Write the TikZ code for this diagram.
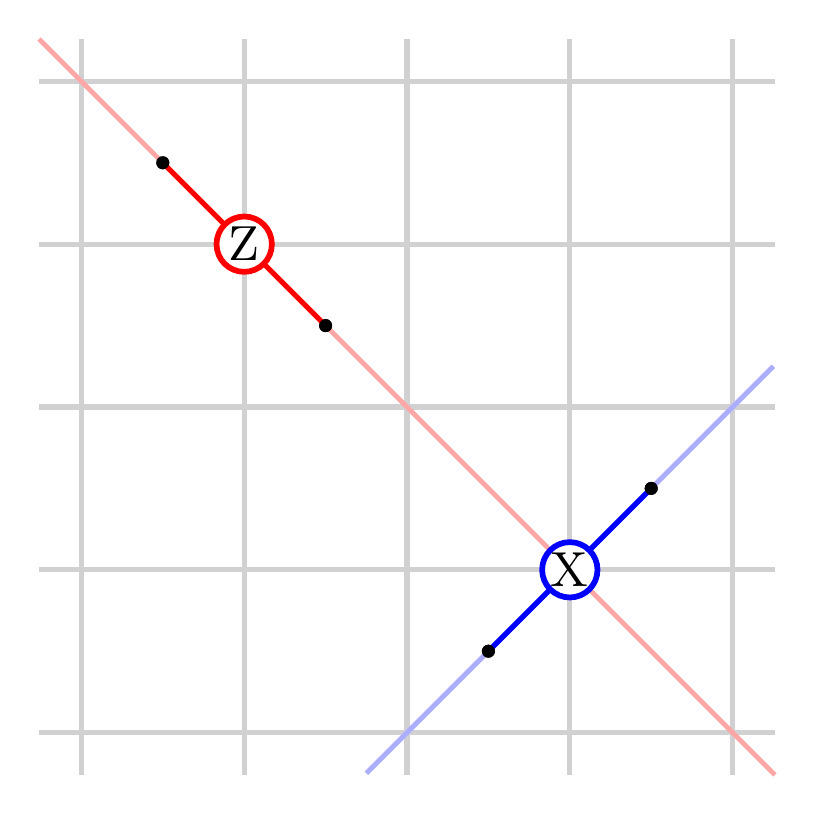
\documentclass[tikz,border=0pt]{standalone}
\begin{document}
\begin{tikzpicture}[
  gridline/.style={draw=black!18, line width=0.9pt},
  faint/.style={line width=0.85pt},
  seg/.style={line width=0.9pt},
  qubit/.style={circle, draw, fill=white, line width=1pt, minimum size=0.34cm, inner sep=0pt, font=\fontsize{8.6}{10}\selectfont},
  dotpt/.style={circle, fill=black, inner sep=0pt, minimum size=0.08cm}
]
\useasboundingbox (-0.5,-0.5) rectangle (4.5,4.5);
\foreach \i in {0,...,4} {
  \draw[gridline] (\i,-0.26) -- (\i,4.26);
  \draw[gridline] (-0.26,\i) -- (4.26,\i);
}
\coordinate (ra) at (-0.26,4.26);
\coordinate (rb) at (4.26,-0.26);
\coordinate (ba) at (1.75,-0.25);
\coordinate (bb) at (4.25,2.25);
\draw[faint, draw=red!35] (ra) -- (rb);
\draw[faint, draw=blue!32] (ba) -- (bb);
\node[dotpt] (z1) at (0.5,3.5) {};
\node[dotpt] (z2) at (1.5,2.5) {};
\node[dotpt] (x1) at (2.5,0.5) {};
\node[dotpt] (x2) at (3.5,1.5) {};
\draw[seg, draw=red] (z1.center) -- (z2.center);
\draw[seg, draw=blue] (x1.center) -- (x2.center);
\node[dotpt] at (z1) {};
\node[dotpt] at (z2) {};
\node[dotpt] at (x1) {};
\node[dotpt] at (x2) {};
\node[qubit, draw=red] (Z) at (1,3) {Z};
\node[qubit, draw=blue] (X) at (3,1) {X};
\end{tikzpicture}
\end{document}
